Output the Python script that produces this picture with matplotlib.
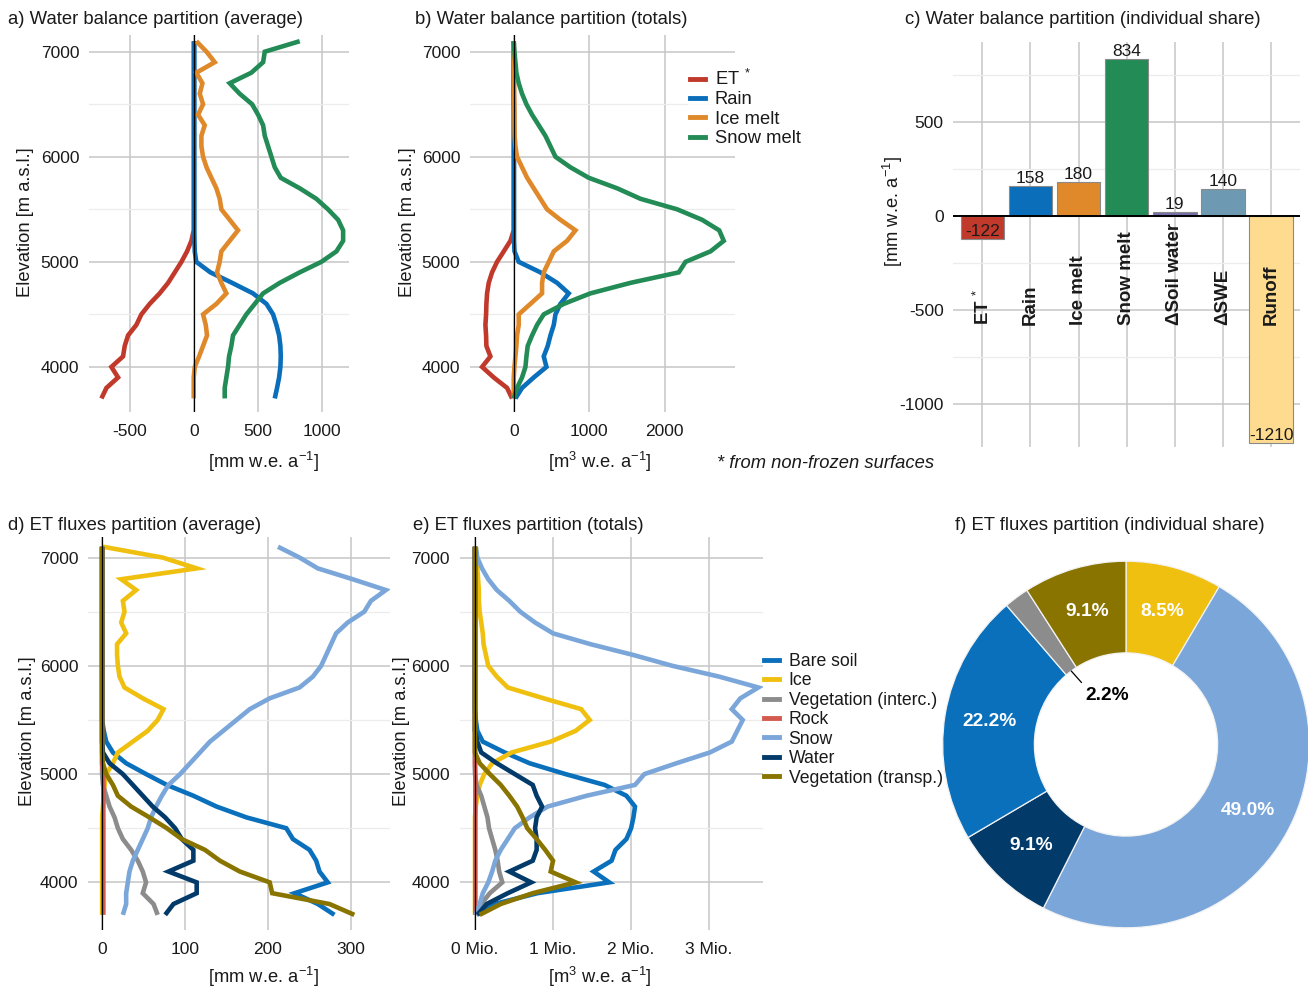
import numpy as np
import matplotlib
matplotlib.use("Agg")
import matplotlib.pyplot as plt
from matplotlib.lines import Line2D

plt.rcParams['font.family'] = ['Liberation Sans', 'DejaVu Sans']
plt.rcParams['mathtext.fontset'] = 'custom'
plt.rcParams['mathtext.rm'] = 'Liberation Sans'
plt.rcParams['axes.unicode_minus'] = False

W, H = 1308, 993

# ---------------- data ----------------
elevation = [7100, 7000, 6900, 6800, 6700, 6600, 6500, 6400, 6300, 6200, 6100, 6000,
             5900, 5800, 5700, 5600, 5500, 5400, 5300, 5200, 5100, 5000, 4900, 4800,
             4700, 4600, 4500, 4400, 4300, 4200, 4100, 4000, 3900, 3800, 3700]

# a) water balance average [mm w.e. a-1]
avg_et = [0, 0, 0, 0, 0, 0, 0, 0, 0, 0, 0, 0, 0, 0, 0, 0, 0, 0,
          0, -18, -52, -96, -148, -200, -266, -344, -409, -448, -513, -539, -552, -643, -591, -682, -721]
avg_rain = [5, 5, 5, 5, 5, 5, 5, 5, 5, 5, 5, 5, 5, 5, 5, 5, 5, 5, 5, 6,
            8, 20, 130, 300, 463, 568, 620, 646, 667, 677, 680, 677, 667, 651, 633]
avg_ice = [20, 100, 164, 20, 68, 47, 73, 34, 86, 60, 60, 73, 100, 138, 177, 203, 216, 281,
           346, 281, 216, 203, 182, 216, 255, 177, 73, 94, 104, 73, 42, 8, 0, 0, 0]
avg_snow = [828, 555, 542, 450, 281, 359, 456, 503, 542, 555, 581, 607, 633, 680, 828, 958, 1049, 1128,
            1167, 1167, 1115, 997, 828, 672, 542, 477, 411, 359, 307, 294, 276, 268, 255, 242, 242]

# b) water balance totals [m3 w.e. a-1]
tot_et = [0, 0, 0, 0, 0, 0, 0, 0, 0, 0, 0, 0, 0, 0, 0, 0, 0, 0,
          0, -44, -132, -221, -287, -331, -353, -362, -366, -375, -366, -362, -309, -419, -265, -88, -22]
tot_rain = [0, 0, 0, 0, 0, 0, 2, 4, 4, 4, 4, 4, 4, 4, 4, 4, 4, 4, 4, 4,
            10, 66, 353, 574, 728, 618, 552, 530, 486, 450, 397, 433, 265, 110, 22]
tot_ice = [0, 2, 3, 4, 5, 6, 8, 9, 10, 12, 22, 44, 110, 177, 265, 353, 441, 618,
           817, 706, 530, 464, 397, 375, 375, 221, 66, 66, 44, 35, 22, 9, 0, 0, 0]
tot_snow = [0, 9, 22, 35, 66, 110, 168, 243, 331, 419, 486, 552, 750, 993, 1369, 1678, 2163, 2494,
            2720, 2780, 2605, 2274, 2185, 1545, 1015, 662, 397, 309, 243, 185, 168, 155, 110, 44, 0]

wb_labels = ["ET$\\,^*$", "Rain", "Ice melt", "Snow melt"]
wb_colors = ["#C0392B", "#0A6EBA", "#E0892B", "#238B55"]

# c) individual share [mm w.e. a-1]
share_categories = ["ET$\\,^*$", "Rain", "Ice melt", "Snow melt", "ΔSoil water", "ΔSWE", "Runoff"]
share_values = [-122, 158, 180, 834, 19, 140, -1210]
share_colors = ["#C0392B", "#0A6EBA", "#E0892B", "#238B55", "#7570AA", "#6D9AB2", "#FEDB8E"]

# d) ET fluxes average [mm w.e. a-1]
et_avg_bare = [0, 0, 0, 0, 0, 0, 0, 0, 0, 0, 0, 0, 0, 0, 0, 0, 0,
               2, 5, 13, 29, 53, 78, 110, 138, 174, 222, 230, 250, 258, 262, 272, 232, 260, 280]
et_avg_ice = [1, 73, 114, 23, 41, 25, 27, 23, 29, 18, 18, 19, 21, 27, 49, 74, 67, 55,
              37, 19, 13, 5, 3, 2, 1, 0, 0, 0, 0, 0, 0, 0, 0, 0, 0]
et_avg_vegi = [0, 0, 0, 0, 0, 0, 0, 0, 0, 0, 0, 0, 0, 0, 0, 0, 0, 0, 0, 0, 0, 0,
               1, 5, 9, 15, 19, 25, 35, 43, 49, 53, 49, 62, 67]
et_avg_rock = [0, 0, 0, 0, 0, 0, 0, 0, 0, 0, 0, 0, 0, 0, 0, 0, 0, 0, 0, 0, 0,
               1.5, 1.5, 1.5, 1.5, 1.5, 1.5, 1.5, 1.5, 1.5, 1.5, 1.5, 1.5, 1.5, 1.5]
et_avg_snow = [212, 238, 260, 302, 342, 324, 316, 296, 282, 276, 270, 264, 254, 238, 202, 178, 162, 146,
               130, 118, 106, 94, 80, 72, 65, 59, 55, 49, 43, 37, 33, 31, 29, 29, 25]
et_avg_water = [0, 0, 0, 0, 0, 0, 0, 0, 0, 0, 0, 0, 0, 0, 0, 0, 0, 0, 0,
                1, 9, 25, 37, 49, 61, 76, 88, 96, 110, 110, 80, 114, 114, 86, 76]
et_avg_vegt = [0, 0, 0, 0, 0, 0, 0, 0, 0, 0, 0, 0, 0, 0, 0, 0, 0, 0, 0, 0,
               1, 5, 13, 19, 35, 57, 78, 96, 124, 142, 166, 202, 205, 274, 304]

# e) ET fluxes totals [Mio. m3 w.e. a-1]
et_tot_bare = [0, 0, 0, 0, 0, 0, 0, 0, 0, 0, 0, 0, 0, 0, 0, 0, 0.01,
               0.03, 0.10, 0.38, 0.70, 1.16, 1.66, 1.94, 2.05, 2.03, 2.00, 1.94, 1.80, 1.75, 1.52, 1.72, 0.80, 0.25, 0.02]
et_tot_ice = [0.01, 0.02, 0.03, 0.04, 0.05, 0.05, 0.06, 0.08, 0.10, 0.11, 0.14, 0.17, 0.28, 0.42, 0.88, 1.36, 1.47, 1.29,
              0.97, 0.47, 0.22, 0.12, 0.06, 0.03, 0.01, 0, 0, 0, 0, 0, 0, 0, 0, 0, 0]
et_tot_vegi = [0, 0, 0, 0, 0, 0, 0, 0, 0, 0, 0, 0, 0, 0, 0, 0, 0, 0, 0, 0, 0, 0,
               0.02, 0.08, 0.12, 0.16, 0.18, 0.22, 0.26, 0.29, 0.31, 0.35, 0.19, 0.08, 0.01]
et_tot_rock = [0, 0, 0, 0, 0, 0, 0, 0, 0, 0, 0, 0, 0, 0, 0, 0, 0, 0, 0, 0, 0,
               0.005, 0.005, 0.005, 0.005, 0.005, 0.005, 0.005, 0.005, 0.005, 0.005, 0.005, 0.005, 0.005, 0.005]
et_tot_snow = [0.01, 0.03, 0.09, 0.17, 0.28, 0.44, 0.58, 0.77, 1.00, 1.48, 2.03, 2.53, 3.13, 3.63, 3.40, 3.29, 3.43, 3.36,
               3.29, 3.01, 2.58, 2.17, 2.05, 1.43, 0.93, 0.70, 0.51, 0.42, 0.33, 0.26, 0.22, 0.17, 0.10, 0.06, 0.01]
et_tot_water = [0, 0, 0, 0, 0, 0, 0, 0, 0, 0, 0, 0, 0, 0, 0, 0, 0, 0,
                0.03, 0.08, 0.28, 0.51, 0.74, 0.79, 0.86, 0.79, 0.77, 0.79, 0.79, 0.74, 0.44, 0.72, 0.42, 0.15, 0.03]
et_tot_vegt = [0, 0, 0, 0, 0, 0, 0, 0, 0, 0, 0, 0, 0, 0, 0, 0, 0, 0, 0, 0,
               0.06, 0.19, 0.33, 0.44, 0.54, 0.61, 0.67, 0.79, 0.90, 1.00, 0.97, 1.29, 0.74, 0.33, 0.06]

et_labels = ["Bare soil", "Ice", "Vegetation (interc.)", "Rock", "Snow", "Water", "Vegetation (transp.)"]
et_colors = ["#0A70BC", "#F0C010", "#8C8C8C", "#D35A4E", "#7AA6DA", "#023A6A", "#8A7400"]

# f) ET fluxes individual share [%]
pie_labels = ["Ice", "Snow", "Water", "Bare soil", "Vegetation (interc.)", "Vegetation (transp.)"]
pie_values = [8.5, 49.0, 9.1, 22.2, 2.2, 9.1]
pie_colors = ["#F0C010", "#7AA6DA", "#023A6A", "#0A70BC", "#8C8C8C", "#8A7400"]

elev_ticks = [4000, 5000, 6000, 7000]
elev_minor = [4500, 5500, 6500]

# ---------------- figure ----------------
fig = plt.figure(figsize=(W / 100, H / 100), dpi=100)
fig.patch.set_facecolor('white')

TXT = '#1a1a1a'
GRID = '#c6c6c6'
MINOR = '#ececec'
FS_TICK = 12.5
FS_TXT = 13.2
FS_TITLE = 13.3


def add_ax(l, t, r, b):
    return fig.add_axes([l / W, 1 - b / H, (r - l) / W, (b - t) / H])


def style(ax):
    for s in ax.spines.values():
        s.set_visible(False)
    ax.set_axisbelow(True)
    ax.tick_params(which='both', length=0, labelsize=FS_TICK, labelcolor=TXT)
    ax.tick_params(axis='x', pad=9)
    ax.tick_params(axis='y', pad=7)
    ax.grid(which='major', color=GRID, lw=1.1)


def profile(ax, series, colors, xlim, ylim, xticks, xticklabels=None):
    for vals, c in zip(series, colors):
        ax.plot(vals, elevation, color=c, lw=3.3, solid_capstyle='butt', solid_joinstyle='miter')
    ax.axvline(0, color='black', lw=0.9, zorder=5)
    ax.set_yticks(elev_ticks)
    ax.set_yticks(elev_minor, minor=True)
    ax.set_xticks(xticks)
    if xticklabels is not None:
        ax.set_xticklabels(xticklabels)
    ax.set_xlim(*xlim)
    ax.set_ylim(*ylim)
    style(ax)
    ax.grid(which='minor', axis='y', color=MINOR, lw=0.9)


# a)
ax_a = add_ax(89, 35, 349, 412)
profile(ax_a, [avg_et, avg_rain, avg_ice, avg_snow], wb_colors, (-818, 1213), (3571, 7159), [-500, 0, 500, 1000])
fig.text(8 / W, 1 - 24 / H, "a) Water balance partition (average)", fontsize=FS_TITLE, color=TXT, va='baseline')
fig.text(263 / W, 1 - 462 / H, "[mm w.e. a$^{-1}$]", fontsize=FS_TXT, color=TXT, ha='center', va='center')
fig.text(26 / W, 1 - 222 / H, "Elevation [m a.s.l.]", fontsize=FS_TXT, color=TXT, ha='center', va='center', rotation=90)

# b)
ax_b = add_ax(470, 35, 735, 412)
profile(ax_b, [tot_et, tot_rain, tot_ice, tot_snow], wb_colors, (-579, 2929), (3571, 7159), [0, 1000, 2000])
fig.text(415 / W, 1 - 24 / H, "b) Water balance partition (totals)", fontsize=FS_TITLE, color=TXT, va='baseline')
fig.text(600 / W, 1 - 462 / H, "[m$^3$ w.e. a$^{-1}$]", fontsize=FS_TXT, color=TXT, ha='center', va='center')
fig.text(407 / W, 1 - 222 / H, "Elevation [m a.s.l.]", fontsize=FS_TXT, color=TXT, ha='center', va='center', rotation=90)

wb_handles = [Line2D([], [], color=c, lw=3.5) for c in wb_colors]
leg1 = fig.legend(wb_handles, wb_labels, loc='upper left', bbox_to_anchor=(688 / W, 1 - 67 / H),
                  frameon=True, facecolor='white', edgecolor='none', fontsize=FS_TXT, handlelength=0.82,
                  handletextpad=0.54, labelspacing=0.13, borderpad=0.1, borderaxespad=0)
for t in leg1.get_texts():
    t.set_color(TXT)

fig.text(717 / W, 1 - 464 / H, "* from non-frozen surfaces", fontsize=FS_TXT, color=TXT, style='italic',
         ha='left', va='center')

# c)
ax_c = add_ax(953.4, 41.7, 1300, 446.7)
xpos = np.arange(len(share_values))
ax_c.bar(xpos, share_values, width=0.9, color=share_colors, edgecolor='#8a8a8a', linewidth=0.8, zorder=2)
ax_c.axhline(0, color='black', lw=1.4, zorder=4)
ax_c.set_xticks(xpos)
ax_c.set_xticklabels([])
ax_c.set_yticks([-1000, -500, 0, 500])
ax_c.set_yticks([-750, -250, 250, 750], minor=True)
ax_c.set_xlim(-0.6, len(share_values) - 0.4)
ax_c.set_ylim(-1229, 925)
style(ax_c)
ax_c.grid(which='minor', axis='y', color=MINOR, lw=0.9)
for i, v in enumerate(share_values):
    ax_c.text(i, v, f"{v}", ha='center', va='bottom', fontsize=FS_TICK, color=TXT, zorder=5)
for i, lab in enumerate(share_categories):
    ax_c.text(i, -580, lab, rotation=90, ha='center', va='bottom', fontsize=13.5, fontweight='bold',
              color=TXT, zorder=5)
fig.text(905 / W, 1 - 24 / H, "c) Water balance partition (individual share)", fontsize=FS_TITLE, color=TXT,
         va='baseline')
fig.text(893 / W, 1 - 212 / H, "[mm w.e. a$^{-1}$]", fontsize=FS_TXT, color=TXT, ha='center', va='center',
         rotation=90)

# d)
ax_d = add_ax(88, 537, 390, 930)
profile(ax_d, [et_avg_bare, et_avg_ice, et_avg_vegi, et_avg_rock, et_avg_snow, et_avg_water, et_avg_vegt],
        et_colors, (-17, 347), (3560, 7190), [0, 100, 200, 300])
fig.text(8 / W, 1 - 530 / H, "d) ET fluxes partition (average)", fontsize=FS_TITLE, color=TXT, va='baseline')
fig.text(263 / W, 1 - 977 / H, "[mm w.e. a$^{-1}$]", fontsize=FS_TXT, color=TXT, ha='center', va='center')
fig.text(28 / W, 1 - 731 / H, "Elevation [m a.s.l.]", fontsize=FS_TXT, color=TXT, ha='center', va='center', rotation=90)

# e)
ax_e = add_ax(459.6, 537, 763, 930)
profile(ax_e, [et_tot_bare, et_tot_ice, et_tot_vegi, et_tot_rock, et_tot_snow, et_tot_water, et_tot_vegt],
        et_colors, (-0.197, 3.69), (3560, 7190), [0, 1, 2, 3], ["0 Mio.", "1 Mio.", "2 Mio.", "3 Mio."])
fig.text(413 / W, 1 - 530 / H, "e) ET fluxes partition (totals)", fontsize=FS_TITLE, color=TXT, va='baseline')
fig.text(600 / W, 1 - 977 / H, "[m$^3$ w.e. a$^{-1}$]", fontsize=FS_TXT, color=TXT, ha='center', va='center')
fig.text(401 / W, 1 - 731 / H, "Elevation [m a.s.l.]", fontsize=FS_TXT, color=TXT, ha='center', va='center', rotation=90)

et_handles = [Line2D([], [], color=c, lw=3.5) for c in et_colors]
leg2 = fig.legend(et_handles, et_labels, loc='upper left', bbox_to_anchor=(762 / W, 1 - 651 / H),
                  frameon=False, fontsize=12.7, handlelength=0.85, handletextpad=0.56, labelspacing=0.14,
                  borderpad=0.1, borderaxespad=0)
for t in leg2.get_texts():
    t.set_color(TXT)

# f)
R = 183.3
cx, cy = 1126, 744.5
ax_f = add_ax(cx - R, cy - R, cx + R, cy + R)
wedges, _ = ax_f.pie(pie_values, colors=pie_colors, startangle=90, counterclock=False, radius=1.0,
                     wedgeprops=dict(width=0.5, edgecolor='#f2f2f2', linewidth=0.9))
ax_f.set_xlim(-1, 1)
ax_f.set_ylim(-1, 1)
ax_f.set_aspect('equal')
ax_f.axis('off')
for w, v, lab in zip(wedges, pie_values, pie_labels):
    ang = np.deg2rad((w.theta1 + w.theta2) / 2)
    if v < 5:
        xi, yi = 0.5 * np.cos(ang), 0.5 * np.sin(ang)
        ax_f.annotate(f"{v:.1f}%", xy=(xi, yi), xytext=(-0.10, 0.265), ha='center', va='center',
                      fontsize=13.8, fontweight='bold', color='black',
                      arrowprops=dict(arrowstyle='-', color='black', lw=0.9, shrinkA=2, shrinkB=0,
                                      relpos=(0.0, 1.0)))
    else:
        ax_f.text(0.755 * np.cos(ang), 0.755 * np.sin(ang), f"{v:.1f}%", ha='center', va='center',
                  fontsize=13.8, fontweight='bold', color='white')
fig.text(955 / W, 1 - 530 / H, "f) ET fluxes partition (individual share)", fontsize=FS_TITLE, color=TXT,
         va='baseline')

fig.savefig("out.png", dpi=100, facecolor='white')
